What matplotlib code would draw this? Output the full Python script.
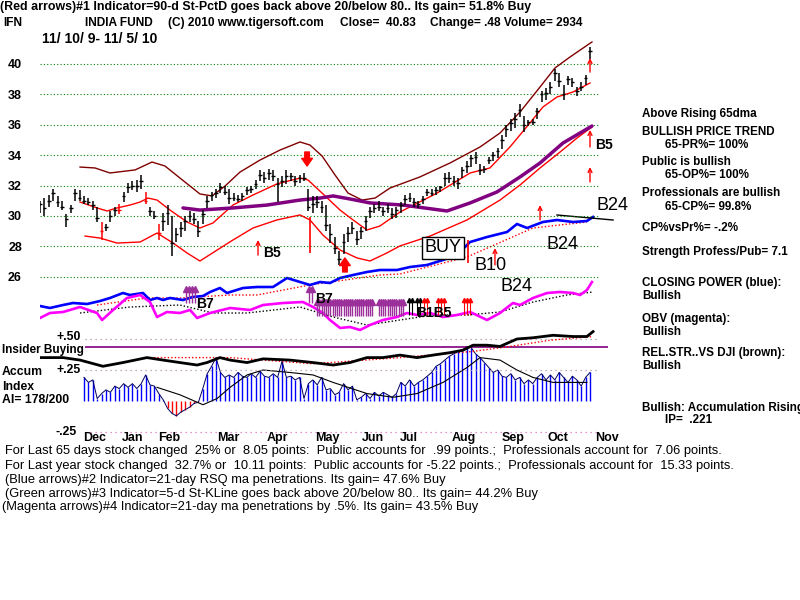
import numpy as np
import matplotlib.pyplot as plt

OUT_FILE = "out.png"
W, H = 800, 600

# ---------------- data ----------------
# price bars, one bar per 2 trading days (day 0 = 11/10/09)
BAR_DAYS = np.arange(0, 252, 2)
LOWS = [30.2, 30.0, 30.6, 31.0, 30.6, 30.4, 29.3, 30.2, 31.0, 31.0,
        30.8, 30.7, 30.4, 29.6, 28.4, 29.0, 29.6, 30.0, 30.1, 30.9,
        31.5, 31.7, 31.6, 31.8, 30.8, 30.0, 29.8, 28.4, 29.0, 29.4,
        27.4, 28.3, 28.6, 29.0, 29.6, 29.5, 28.6, 29.5, 30.5, 31.0,
        31.2, 31.5, 31.4, 30.8, 31.0, 30.9, 31.0, 31.4, 31.5, 31.8,
        32.3, 32.2, 32.4, 32.3, 30.9, 31.9, 32.1, 32.3, 32.0, 32.2,
        32.3, 30.3, 30.2, 30.5, 30.2, 29.0, 28.2, 27.5, 26.8, 27.5,
        28.3, 28.8, 28.1, 28.5, 29.0, 29.9, 30.2, 30.3, 30.0, 30.2,
        29.8, 29.9, 30.2, 30.7, 30.9, 30.6, 30.5, 30.8, 31.3, 31.3,
        31.4, 31.6, 32.0, 32.2, 32.0, 31.8, 32.5, 32.8, 33.2, 33.4,
        32.7, 32.8, 33.4, 33.6, 33.8, 34.4, 35.2, 35.6, 35.8, 36.5,
        35.5, 35.9, 36.0, 36.4, 37.5, 37.6, 38.0, 38.9, 38.5, 37.6,
        38.6, 38.5, 37.9, 38.2, 38.6, 40.3]
HIGHS = [31.0, 31.2, 31.4, 31.8, 31.3, 31.0, 30.1, 30.7, 31.8, 31.7,
         31.3, 31.2, 31.0, 30.6, 29.6, 29.5, 30.3, 30.6, 30.8, 31.6,
         32.2, 32.3, 32.4, 32.7, 31.6, 30.6, 30.3, 29.5, 30.2, 30.7,
         30.0, 29.2, 29.6, 30.0, 30.3, 30.2, 29.7, 30.4, 31.3, 31.6,
         31.8, 32.2, 32.0, 31.8, 31.5, 31.4, 31.5, 31.9, 32.0, 32.4,
         33.0, 32.9, 33.1, 33.0, 32.5, 32.6, 33.0, 32.8, 32.6, 32.7,
         32.8, 31.8, 31.3, 31.3, 31.0, 30.7, 29.5, 28.6, 27.7, 28.8,
         29.3, 29.6, 29.0, 29.3, 30.0, 30.6, 30.8, 31.0, 30.6, 30.8,
         30.5, 30.6, 30.9, 31.4, 31.5, 31.2, 31.0, 31.3, 31.8, 31.8,
         31.9, 32.0, 32.8, 32.9, 32.6, 32.5, 33.2, 33.6, 34.0, 34.2,
         33.4, 33.3, 33.9, 34.2, 34.5, 35.3, 36.0, 36.4, 36.8, 37.4,
         36.6, 36.3, 36.4, 37.1, 38.2, 38.4, 38.8, 39.7, 39.4, 38.6,
         39.2, 39.1, 38.5, 38.8, 39.3, 41.1]
CLOSES = [30.8, 30.5, 31.0, 31.5, 30.9, 30.6, 29.8, 30.5, 31.5, 31.2,
          31.0, 30.9, 30.7, 29.9, 29.0, 29.3, 30.0, 30.4, 30.4, 31.3,
          31.9, 32.0, 32.0, 32.3, 31.0, 30.3, 30.0, 28.9, 29.7, 30.2,
          28.2, 28.8, 29.2, 29.7, 30.0, 29.8, 29.0, 30.1, 31.0, 31.4,
          31.5, 31.9, 31.6, 31.2, 31.2, 31.1, 31.3, 31.7, 31.8, 32.1,
          32.7, 32.5, 32.8, 32.6, 32.1, 32.3, 32.6, 32.6, 32.3, 32.5,
          32.5, 30.6, 30.8, 30.9, 30.6, 29.4, 28.8, 27.9, 27.2, 28.3,
          28.9, 29.2, 28.5, 29.0, 29.7, 30.3, 30.5, 30.6, 30.3, 30.5,
          30.1, 30.4, 30.7, 31.1, 31.2, 30.9, 30.8, 31.1, 31.6, 31.5,
          31.7, 31.9, 32.5, 32.5, 32.3, 32.2, 33.0, 33.3, 33.8, 33.9,
          33.0, 33.1, 33.7, 34.0, 34.3, 35.0, 35.7, 36.1, 36.4, 37.0,
          36.0, 36.2, 36.2, 36.9, 38.0, 38.1, 38.5, 39.4, 38.9, 38.0,
          39.0, 38.8, 38.2, 38.5, 39.1, 40.83]
RED_BARS = [14, 18, 24, 27]
PRICE_TICKS = [26, 28, 30, 32, 34, 36, 38, 40]

UPPER_DAYS = [18.2, 25, 31.8, 43.2, 50.9, 56.8, 63.6, 72.7, 78.2, 84.1, 90.9, 100, 109.1,
              118.2, 122.7, 128.2, 134.1, 140, 146.4, 152.3, 159.1, 172.7, 186.4, 200,
              209.1, 218.2, 227.3, 234.1, 240.9, 250.9]
UPPER_VALS = [33.22, 33.16, 32.83, 33.03, 33.55, 33.29, 32.50, 31.45, 31.32, 31.97, 32.89,
              33.68, 34.34, 34.87, 34.67, 33.95, 32.70, 31.51, 31.05, 31.18, 31.84, 32.57,
              33.49, 34.54, 35.46, 36.84, 38.49, 39.74, 40.46, 41.45]
MID_DAYS = [18.2, 25.9, 30.5, 35, 40.9, 45.5, 49.1, 53.2, 59.1, 66.8, 72.7, 78.6, 87.7,
            96.8, 107.7, 118.2, 121.8, 128.2, 136.4, 142.3, 148.6, 154.5, 163.6, 180.5,
            195.5, 204.5, 213.6, 222.7, 228.6, 235, 242.3, 250]
MID_VALS = [30.92, 30.53, 30.33, 30.53, 30.72, 30.92, 31.18, 31.05, 30.39, 29.61, 29.21,
            29.54, 30.72, 31.38, 32.11, 32.50, 32.37, 31.51, 30.39, 29.74, 29.08, 29.34,
            30.26, 31.51, 32.83, 33.16, 34.54, 36.12, 37.17, 37.83, 38.16, 38.75]
LOWER_DAYS = [20.5, 27.3, 35, 45.5, 53.2, 60.5, 66.8, 72.7, 80.5, 87.7, 96.8, 107.7, 118.2,
              122.7, 128.6, 136.4, 144.1, 150, 157.7, 163.6, 177.3, 194.1, 209.1, 218.2,
              227.3, 236.4, 244.1, 250.9]
LOWER_VALS = [28.68, 28.55, 28.22, 28.29, 28.88, 28.22, 27.57, 27.04, 27.76, 28.42, 29.21,
              29.74, 30.07, 29.74, 28.75, 27.76, 27.24, 27.04, 27.57, 28.03, 28.68, 29.74,
              31.05, 32.04, 33.16, 34.21, 35.13, 35.86]
MA65_DAYS = [65, 72.7, 87.7, 103.2, 118.2, 127.3, 133.2, 140.9, 150, 165, 185, 195.5,
             207.7, 218.2, 227.3, 237.7, 250.9]
MA65_VALS = [30.53, 30.39, 30.53, 30.72, 31.05, 31.18, 31.32, 31.12, 30.86, 30.72, 30.33,
             30.86, 31.58, 32.57, 33.49, 34.80, 35.92]

# red signal arrows on the price panel: day, tail, head
THIN_ARROW_DAYS = [99.1, 206.8, 227.3, 250, 250, 250]
THIN_ARROW_FROM = [27.43, 26.78, 29.74, 32.24, 34.54, 39.47]
THIN_ARROW_TO = [28.42, 27.89, 30.72, 33.22, 35.66, 40.39]
THICK_ARROW_DAYS = [121.4, 138.6]
THICK_ARROW_FROM = [34.21, 26.32]
THICK_ARROW_TO = [33.29, 27.24]
RED_LINE_DAYS = [122.7, 194.5]
RED_LINE_LOW = [27.57, 26.91]
RED_LINE_HIGH = [29.93, 28.42]

# closing power (blue) and OBV (magenta), chart units
CP_DAYS = [0, 4.5, 10.5, 15, 21.4, 27.3, 31.8, 37.7, 40.9, 46.8, 50, 53.2, 55.9, 59.1, 65,
           69.5, 74.1, 77.3, 81.8, 85, 92.3, 98.6, 105.9, 112.3, 118.2, 122.7, 127.3, 131.8,
           136.4, 142.3, 148.6, 154.5, 162.3, 168.2, 175.9, 183.2, 189.5, 195.5, 203.2,
           212.3, 216.8, 221.4, 228.6, 235, 242.3, 248.6, 251.4]
CP_VALS = [2.4, 2.2, 2.5, 2.7, 2.6, 2.9, 3.2, 3.7, 3.5, 3.7, 3.0, 3.2, 3.0, 3.2, 3.0, 3.3,
           3.4, 3.8, 4.2, 3.7, 4.2, 4.3, 4.3, 5.2, 4.8, 4.5, 4.8, 4.7, 5.2, 5.5, 5.8, 6.0,
           6.0, 6.3, 6.5, 7.0, 7.5, 8.8, 9.3, 9.8, 10.6, 10.2, 10.8, 11.0, 10.8, 10.9, 11.3]
CP_MA_DAYS = [25.9, 48.6, 63.6, 86.4, 98.6, 122.7, 154.5, 163.6, 194.1, 224.1, 248.6]
CP_MA_VALS = [2.5, 3.2, 3.2, 3.5, 3.5, 4.5, 5.5, 5.6, 7.3, 10.2, 10.8]
TREND_DAYS = [235, 260.5]
TREND_VALS = [11.5, 11.0]
OBV_DAYS = [0, 4.5, 10.5, 18.2, 25.9, 28.2, 33.2, 39.5, 45.5, 50, 53.2, 57.7, 63.6, 68.2,
            71.4, 77.3, 86.4, 95.5, 101.4, 110.5, 119.5, 124.1, 128.6, 131.8, 136.4, 140.9,
            145.5, 150, 155.9, 162.3, 166.8, 171.4, 177.3, 183.2, 189.5, 195.5, 203.2,
            209.1, 215, 218.2, 224.1, 230.5, 236.4, 242.3, 245.5, 248.6, 250.9]
OBV_VALS = [1.2, 1.7, 1.8, 2.3, 1.7, 1.0, 2.0, 3.2, 3.5, 2.8, 1.3, 1.8, 1.7, 2.0, 1.2, 1.7,
            2.2, 2.0, 2.5, 2.7, 2.8, 2.3, 1.7, 1.0, 0.2, 0.3, 0.0, 0.5, 1.0, 1.3, 1.7, 1.5,
            1.7, 1.3, 1.5, 1.8, 1.0, 1.7, 2.7, 2.5, 3.2, 3.7, 3.8, 3.7, 3.5, 4.0, 4.8]
OBV_MA_DAYS = [18.2, 40.9, 63.6, 78.6, 94.1, 118.2, 133.2, 148.6, 163.6, 178.6, 194.1,
               209.1, 224.1, 239.5, 251.4]
OBV_MA_VALS = [1.7, 2.3, 2.5, 1.7, 1.7, 2.3, 1.3, 0.5, 1.0, 1.5, 1.5, 1.8, 2.8, 3.5, 3.8]

# indicator signal arrows (days)
B7_DAYS = [66.4, 67.7, 69.1, 70.5, 122.3, 123.6]
MAG_DAYS = [126, 127, 128, 129, 130, 131, 132, 133, 134, 135, 136, 137, 138, 139, 140,
            141, 142, 143, 144, 145, 146, 147, 148, 149, 150, 151, 154, 155, 156, 157,
            158, 159, 160, 161, 162, 163, 164, 165]
BLACK_SIG_DAYS = [167.7, 169, 171.4, 172.7]
RED_SIG_DAYS = [174.5, 175.9, 181, 182.3, 183.6, 192.7, 194, 195.5]

# accumulation index, from bar 10 on
ACC_VALS = [.19, .15, .17, .02, .06, .09, .07, .12, .10, .14,
            .11, .14, .10, .14, .21, .13, .12, .06, .01, -.06,
            -.10, -.12, -.09, -.07, -.05, -.02, -.01, .10, .22, .28,
            .35, .23, .19, .21, .19, .23, .20, .19, .22, .19,
            .24, .20, .19, .22, .19, .32, .19, .20, .17, .19,
            .02, .14, .17, .13, .19, .09, .10, .05, .07, .14,
            .09, .12, .01, .03, .06, .02, .07, .04, .07, .05,
            .03, .06, .15, .12, .17, .12, .15, .17, .20, .23,
            .28, .30, .33, .36, .38, .40, .41, .44, .43, .38,
            .35, .31, .27, .23, .25, .20, .19, .22, .17, .19,
            .14, .17, .14, .19, .22, .17, .21, .17, .23, .19,
            .15, .20, .17, .12, .19, .23]
ACC_MA_DAYS = [53.2, 63.6, 74.1, 80.5, 86.4, 94.1, 101.4, 113.6, 124.1, 133.2, 148.6,
               160.5, 171.4, 183.2, 194.1, 200, 209.1, 216.8, 224.1, 233.2, 248.6]
ACC_MA_VALS = [.11, .05, -.03, .02, .11, .21, .25, .23, .21, .15, .06, .03, .06, .15, .27,
               .35, .33, .25, .19, .15, .15]
RS_DAYS = [0, 10.5, 18.2, 28.6, 37.7, 48.6, 55.9, 63.6, 71.4, 75.9, 81.8, 86.4, 94.1,
           101.4, 113.6, 124.1, 133.2, 140.9, 148.6, 155.9, 163.6, 171.4, 178.6, 186.4,
           192.3, 196.8, 203.2, 209.1, 216.8, 224.1, 233.2, 242.3, 248.6, 251.4]
RS_VALS = [.35, .35, .33, .28, .31, .35, .33, .31, .29, .31, .35, .33, .31, .34, .33, .31,
           .29, .31, .35, .35, .37, .35, .37, .39, .41, .45, .45, .44, .50, .51, .53, .52,
           .52, .56]
RS_MA_DAYS = [48.6, 86.4, 124.1, 163.6, 196.8, 213.6, 231.8, 251.4]
RS_MA_VALS = [.35, .35, .30, .35, .40, .44, .49, .52]
INSIDER_LEVEL = 0.435
ACC_LEVELS = [0.5, 0.25]

MONTHS = ["Dec", "Jan", "Feb", "Mar", "Apr", "May", "Jun", "Jul", "Aug", "Sep", "Oct", "Nov"]
MONTH_DAYS = [19.5, 37.3, 53.6, 80.5, 103.2, 125, 146.4, 163.6, 187.3, 210, 230.9, 252.3]

# ---------------- drawing ----------------
plt.rcParams["font.family"] = ["Liberation Sans", "DejaVu Sans"]
fig = plt.figure(figsize=(8, 6), dpi=100)
fig.patch.set_facecolor("white")

XMAX = (600 - 40) / 2.2


def rect(top, bottom):
    return [40 / W, 1 - bottom / H, 560 / W, (bottom - top) / H]


def put(x, y, s, size=8.6, weight="bold", **kw):
    fig.text(x / W, 1 - y / H, s, fontsize=size, fontweight=weight,
             va="center", ha="left", **kw)


# CP / OBV panel
ax_i = fig.add_axes(rect(200, 335))
ax_i.set_xlim(0, XMAX)
ax_i.set_ylim(-0.5, 13)
ax_i.axis("off")
ax_i.plot(CP_MA_DAYS, CP_MA_VALS, color="red", lw=1, ls=(0, (1, 1.5)))
ax_i.plot(OBV_MA_DAYS, OBV_MA_VALS, color="black", lw=1, ls=(0, (1, 1.5)))
ax_i.plot(CP_DAYS, CP_VALS, color="#0000ff", lw=1.9)
ax_i.plot(OBV_DAYS, OBV_VALS, color="#ff00ff", lw=1.9)
ax_i.plot(TREND_DAYS, TREND_VALS, color="black", lw=1, clip_on=False)

purple = "#9b309b"
ax_i.vlines(B7_DAYS, 2.7, 4.1, colors=purple, lw=1)
ax_i.plot(B7_DAYS, [4.1] * len(B7_DAYS), ls="none", marker="^", ms=4, color=purple)
ax_i.vlines(MAG_DAYS, 1.4, 2.8, colors=purple, lw=1)
ax_i.plot(MAG_DAYS, [2.8] * len(MAG_DAYS), ls="none", marker="^", ms=4, color=purple)
ax_i.vlines(BLACK_SIG_DAYS, 1.5, 3.0, colors="black", lw=0.8)
ax_i.plot(BLACK_SIG_DAYS, [3.0] * len(BLACK_SIG_DAYS), ls="none", marker="^", ms=3, color="black")
ax_i.vlines(RED_SIG_DAYS, 1.5, 3.0, colors="red", lw=0.8)
ax_i.plot(RED_SIG_DAYS, [3.0] * len(RED_SIG_DAYS), ls="none", marker="^", ms=3, color="red")

# price panel
P_LO = 44.2105 - 290 / 15.2
P_HI = 44.2105 - 40 / 15.2
ax_p = fig.add_axes(rect(40, 290))
ax_p.set_facecolor("none")
ax_p.set_xlim(0, XMAX)
ax_p.set_ylim(P_LO, P_HI)
for s in ax_p.spines.values():
    s.set_visible(False)
ax_p.set_xticks([])
ax_p.set_yticks(PRICE_TICKS)
ax_p.set_yticklabels([str(t) for t in PRICE_TICKS], fontsize=9, fontweight="bold")
ax_p.tick_params(axis="y", length=0, pad=13)
ax_p.grid(axis="y", color="#008000", ls=(0, (1, 2)), lw=0.8)

ax_p.plot(UPPER_DAYS, UPPER_VALS, color="#800000", lw=1)
ax_p.plot(MID_DAYS, MID_VALS, color="#ff0000", lw=1)
ax_p.plot(LOWER_DAYS, LOWER_VALS, color="#ff0000", lw=1)
ax_p.plot(MA65_DAYS, MA65_VALS, color="#800080", lw=2.5, solid_capstyle="round")

bar_colors = ["red" if i in RED_BARS else "black" for i in range(len(BAR_DAYS))]
ax_p.vlines(BAR_DAYS, LOWS, HIGHS, colors=bar_colors, lw=1.1)
ax_p.hlines(CLOSES, BAR_DAYS - 0.8, BAR_DAYS + 0.8, colors=bar_colors, lw=1)

for d, a, b in zip(THIN_ARROW_DAYS, THIN_ARROW_FROM, THIN_ARROW_TO):
    ax_p.annotate("", xy=(d, b), xytext=(d, a), annotation_clip=False,
                  arrowprops=dict(arrowstyle="->", color="red", lw=1,
                                  shrinkA=0, shrinkB=0, mutation_scale=7))
for d, a, b in zip(THICK_ARROW_DAYS, THICK_ARROW_FROM, THICK_ARROW_TO):
    ax_p.annotate("", xy=(d, b), xytext=(d, a), annotation_clip=False,
                  arrowprops=dict(arrowstyle="simple,head_length=0.5,head_width=0.7,tail_width=0.3",
                                  fc="red", ec="red", shrinkA=0, shrinkB=0, mutation_scale=11))
ax_p.vlines(RED_LINE_DAYS, RED_LINE_LOW, RED_LINE_HIGH, colors="red", lw=1.2)

# accumulation panel
ax_a = fig.add_axes(rect(330, 445))
ax_a.set_facecolor("none")
ax_a.set_xlim(0, XMAX)
ax_a.set_ylim((401 - 445) / 124, (401 - 330) / 124)
ax_a.axis("off")
acc_days = BAR_DAYS[10:]
acc = np.array(ACC_VALS)
ax_a.vlines(acc_days, 0, acc, colors=np.where(acc < 0, "red", "#0000ff"), lw=1)
ax_a.plot(acc_days, acc, color="#000060", lw=0.7)
ax_a.plot(ACC_MA_DAYS, ACC_MA_VALS, color="black", lw=0.8)
ax_a.hlines(ACC_LEVELS, 20.5, XMAX, colors="#b090a8", lw=0.9, ls=(0, (1, 3)))
ax_a.hlines(-0.25, 20.5, XMAX, colors="#e070c0", lw=0.9, ls=(0, (1, 3)))
ax_a.hlines(INSIDER_LEVEL, 20.5, 258.2, colors="#800080", lw=1.2, clip_on=False)
ax_a.plot(RS_MA_DAYS, RS_MA_VALS, color="red", lw=1, ls=(0, (1, 1.5)))
ax_a.plot(RS_DAYS, RS_VALS, color="black", lw=2.0)
for m, d in zip(MONTHS, MONTH_DAYS):
    ax_a.text(d, -0.3, m, fontsize=9, fontweight="bold", va="center", ha="left", clip_on=False)

# ---------------- texts ----------------
put(0, 7, "(Red arrows)#1 Indicator=90-d St-PctD goes back above 20/below 80.. Its gain= 51.8% Buy",
    size=8.9)
put(3, 23, "IFN")
put(85, 23, "INDIA FUND")
put(168, 23, "(C) 2010 www.tigersoft.com")
put(340, 23, "Close=  40.83")
put(430, 23, "Change= .48 Volume= 2934")
put(42, 39, "11/ 10/ 9- 11/ 5/ 10", size=10)

put(57, 337, "+.50", size=8.8)
put(2, 350, "Insider Buying", size=8.5)
put(2, 372, "Accum", size=8.8)
put(57, 370, "+.25", size=8.8)
put(2, 387, "Index", size=8.8)
put(2, 400, "AI= 178/200", size=8.8)
put(55, 432, "-.25", size=8.8)

right = [(642, 114, "Above Rising 65dma"), (642, 132, "BULLISH PRICE TREND"),
         (665, 145, "65-PR%= 100%"), (642, 162, "Public is bullish"),
         (665, 175, "65-OP%= 100%"), (642, 193, "Professionals are bullish"),
         (665, 207, "65-CP%= 99.8%"), (642, 228, "CP%vsPr%= -.2%"),
         (642, 252, "Strength Profess/Pub= 7.1"), (642, 283, "CLOSING POWER (blue):"),
         (642, 296, "Bullish"), (642, 319, "OBV (magenta):"), (642, 332, "Bullish"),
         (642, 353, "REL.STR..VS DJI (brown):"), (642, 366, "Bullish"),
         (642, 408, "Bullish: Accumulation Rising"), (665, 420, "IP=  .221")]
for x, y, s in right:
    put(x, y, s, size=8.4)

put(263, 253, "B5", size=10)
put(595, 145, "B5", size=10)
put(196, 304, "B7", size=10)
put(315, 299, "B7", size=10)
put(416, 313, "B1B5", size=10)
put(596, 205, "B24", size=13, weight="normal")
put(546, 244, "B24", size=13, weight="normal")
put(474, 265, "B10", size=13, weight="normal")
put(500, 287, "B24", size=13, weight="normal")
fig.text(443 / W, 1 - 248 / H, "BUY", fontsize=13, ha="center", va="center",
         bbox=dict(boxstyle="square,pad=0.15", fc="white", ec="black", lw=1))

bottom = [(5, 451, "For Last 65 days stock changed  25% or  8.05 points:  Public accounts for  .99 points.;  Professionals account for  7.06 points."),
          (5, 466, "For Last year stock changed  32.7% or  10.11 points:  Public accounts for -5.22 points.;  Professionals account for  15.33 points."),
          (5, 480, "(Blue arrows)#2 Indicator=21-day RSQ ma penetrations. Its gain= 47.6% Buy"),
          (5, 494, "(Green arrows)#3 Indicator=5-d St-KLine goes back above 20/below 80.. Its gain= 44.2% Buy"),
          (2, 507, "(Magenta arrows)#4 Indicator=21-day ma penetrations by .5%. Its gain= 43.5% Buy")]
for x, y, s in bottom:
    fig.text(x / W, 1 - y / H, s, fontsize=9.3, va="center", ha="left")

fig.savefig(OUT_FILE, dpi=100)
